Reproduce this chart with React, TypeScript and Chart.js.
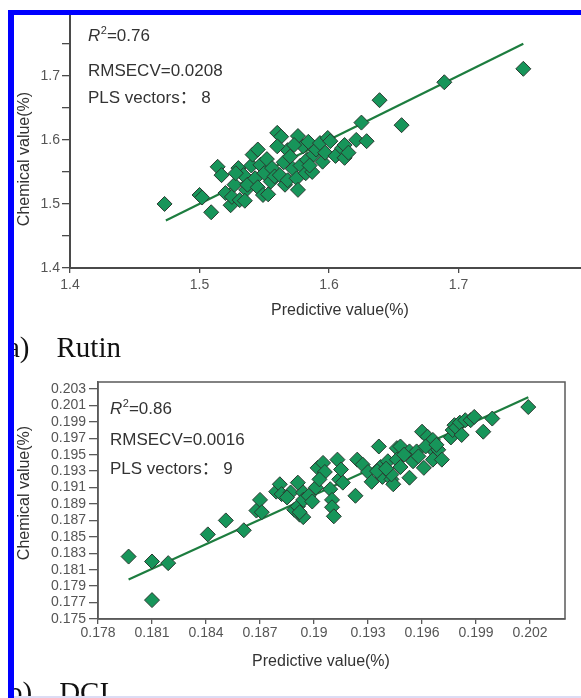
import React, { useEffect, useRef } from 'react';
import { Chart, registerables } from 'chart.js';

Chart.register(...registerables);

// ---------- (a) Rutin ----------
const rutinPredicted = [
  1.473, 1.500, 1.502, 1.509, 1.514, 1.517, 1.520, 1.524, 1.525, 1.527,
  1.530, 1.531, 1.534, 1.536, 1.537, 1.540, 1.541, 1.543, 1.545, 1.547,
  1.549, 1.550, 1.552, 1.555, 1.556, 1.558, 1.560, 1.562, 1.563, 1.565,
  1.566, 1.568, 1.568, 1.570, 1.572, 1.575, 1.576, 1.576, 1.578, 1.580,
  1.582, 1.583, 1.584, 1.587, 1.588, 1.590, 1.593, 1.595, 1.597, 1.599,
  1.601, 1.605, 1.610, 1.612, 1.612, 1.615, 1.621, 1.625, 1.629, 1.639,
  1.656, 1.689, 1.750, 1.553, 1.545, 1.560, 1.535, 1.528, 1.573, 1.585,
];
const rutinChemical = [
  1.500, 1.514, 1.510, 1.487, 1.558, 1.545, 1.517, 1.498, 1.511, 1.530,
  1.556, 1.506, 1.545, 1.522, 1.530, 1.560, 1.577, 1.540, 1.526, 1.561,
  1.514, 1.548, 1.570, 1.535, 1.556, 1.543, 1.611, 1.545, 1.605, 1.565,
  1.530, 1.537, 1.584, 1.574, 1.555, 1.540, 1.522, 1.606, 1.560, 1.590,
  1.548, 1.569, 1.597, 1.550, 1.577, 1.585, 1.595, 1.566, 1.580, 1.603,
  1.598, 1.575, 1.587, 1.572, 1.592, 1.580, 1.600, 1.627, 1.598, 1.662,
  1.623, 1.690, 1.711, 1.515, 1.585, 1.590, 1.505, 1.548, 1.592, 1.560,
];
const rutinFitX = [1.474, 1.75];
const rutinFitY = [1.474, 1.75];
const rutinXTicks = [1.4, 1.5, 1.6, 1.7];
const rutinXTickLabels = ['1.4', '1.5', '1.6', '1.7'];
const rutinYTicks = [1.4, 1.45, 1.5, 1.55, 1.6, 1.65, 1.7, 1.75];
const rutinYTickLabels = ['1.4', '', '1.5', '', '1.6', '', '1.7', ''];
const rutinR2 = '=0.76';
const rutinRmsecv = 'RMSECV=0.0208';
const rutinPls = 'PLS vectors\uFF1A 8';

// ---------- (b) DCI ----------
const dciPredicted = [
  0.1797, 0.1810, 0.1810, 0.1819, 0.1841, 0.1851, 0.1861, 0.1868, 0.1870, 0.1871,
  0.1879, 0.1881, 0.1882, 0.1887, 0.1889, 0.1892, 0.1894, 0.1891, 0.1892, 0.1891,
  0.1894, 0.1894, 0.1901, 0.1902, 0.1905, 0.1906, 0.1903, 0.1909, 0.1910, 0.1910,
  0.1913, 0.1914, 0.1916, 0.1915, 0.1911, 0.1924, 0.1923, 0.1927, 0.1930, 0.1932,
  0.1936, 0.1937, 0.1938, 0.1941, 0.1943, 0.1946, 0.1944, 0.1943, 0.1946, 0.1948,
  0.1948, 0.1953, 0.1953, 0.1955, 0.1957, 0.1960, 0.1961, 0.1963, 0.1965, 0.1966,
  0.1966, 0.1969, 0.1971, 0.1976, 0.1977, 0.1978, 0.1979, 0.1981, 0.1982, 0.1984,
  0.1987, 0.1989, 0.1994, 0.1999, 0.2019, 0.1897, 0.1899, 0.1885, 0.1935, 0.1940,
  0.1950, 0.1958, 0.1962, 0.1968,
];
const dciChemical = [
  0.1826, 0.1820, 0.1773, 0.1818, 0.1853, 0.1870, 0.1858, 0.1882, 0.1895, 0.1880,
  0.1905, 0.1914, 0.1902, 0.1904, 0.1883, 0.1877, 0.1874, 0.1887, 0.1880, 0.1916,
  0.1904, 0.1895, 0.1910, 0.1934, 0.1940, 0.1929, 0.1920, 0.1908, 0.1895, 0.1886,
  0.1944, 0.1920, 0.1916, 0.1932, 0.1875, 0.1944, 0.1900, 0.1938, 0.1929, 0.1917,
  0.1960, 0.1935, 0.1923, 0.1942, 0.1920, 0.1958, 0.1914, 0.1926, 0.1944, 0.1935,
  0.1960, 0.1954, 0.1922, 0.1942, 0.1954, 0.1978, 0.1934, 0.1972, 0.1958, 0.1968,
  0.1944, 0.1956, 0.1944, 0.1971, 0.1980, 0.1986, 0.1983, 0.1989, 0.1974, 0.1992,
  0.1992, 0.1996, 0.1978, 0.1994, 0.2008, 0.1900, 0.1893, 0.1898, 0.1930, 0.1933,
  0.1950, 0.1948, 0.1960, 0.1962,
];
const dciFitX = [0.1797, 0.2019];
const dciFitY = [0.1798, 0.2020];
const dciXTicks = [0.178, 0.181, 0.184, 0.187, 0.19, 0.193, 0.196, 0.199, 0.202];
const dciXTickLabels = ['0.178', '0.181', '0.184', '0.187', '0.19', '0.193', '0.196', '0.199', '0.202'];
const dciYTicks = [0.175, 0.177, 0.179, 0.181, 0.183, 0.185, 0.187, 0.189, 0.191, 0.193, 0.195, 0.197, 0.199, 0.201, 0.203];
const dciYTickLabels = ['0.175', '0.177', '0.179', '0.181', '0.183', '0.185', '0.187', '0.189', '0.191', '0.193', '0.195', '0.197', '0.199', '0.201', '0.203'];
const dciR2 = '=0.86';
const dciRmsecv = 'RMSECV=0.0016';
const dciPls = 'PLS vectors\uFF1A 9';

const xTitle = 'Predictive value(%)';
const yTitle = 'Chemical value(%)';

const SANS = '"Liberation Sans", Arial, "Noto Sans CJK SC", sans-serif';

type Spec = {
  w: number; h: number;
  area: { left: number; top: number; right: number; bottom: number };
  xMin: number; xMax: number; yMin: number; yMax: number;
  xs: number[]; ys: number[]; fitX: number[]; fitY: number[];
  xTicks: number[]; xLabels: string[]; yTicks: number[]; yLabels: string[];
  r2: string; rmsecv: string; pls: string;
  annX: number; annY: number[];
  xTitlePos: [number, number]; yTitlePos: [number, number];
  box: boolean; yTickLen: number; yTickPad: number; xTickLen: number; xTickPad: number;
  axisWidth: number; axisColor: string;
};

function ScatterPanel({ spec, style }: { spec: Spec; style: React.CSSProperties }) {
  const ref = useRef<HTMLCanvasElement | null>(null);
  useEffect(() => {
    const canvas = ref.current!;
    const s = spec;
    const overlay = {
      id: 'overlay',
      afterDraw(chart: any) {
        const ctx = chart.ctx as CanvasRenderingContext2D;
        const ca = chart.chartArea;
        ctx.save();
        if (s.box) {
          ctx.strokeStyle = s.axisColor;
          ctx.lineWidth = s.axisWidth;
          ctx.strokeRect(ca.left, ca.top, ca.right - ca.left, ca.bottom - ca.top);
        }
        ctx.fillStyle = '#333';
        ctx.textBaseline = 'alphabetic';
        ctx.textAlign = 'left';
        // R^2 line
        ctx.font = `italic 17px ${SANS}`;
        ctx.fillText('R', s.annX, s.annY[0]);
        let x = s.annX + ctx.measureText('R').width;
        ctx.font = `11px ${SANS}`;
        ctx.fillText('2', x + 0.5, s.annY[0] - 7);
        x += ctx.measureText('2').width + 0.5;
        ctx.font = `17px ${SANS}`;
        ctx.fillText(s.r2, x, s.annY[0]);
        ctx.fillText(s.rmsecv, s.annX, s.annY[1]);
        ctx.fillText(s.pls, s.annX, s.annY[2]);
        // axis titles
        ctx.font = `16px ${SANS}`;
        ctx.textAlign = 'center';
        ctx.textBaseline = 'middle';
        ctx.fillText(xTitle, s.xTitlePos[0], s.xTitlePos[1]);
        ctx.translate(s.yTitlePos[0], s.yTitlePos[1]);
        ctx.rotate(-Math.PI / 2);
        ctx.fillText(yTitle, 0, 0);
        ctx.restore();
      },
    };
    const chart = new Chart(canvas, {
      type: 'scatter',
      data: {
        datasets: [
          {
            type: 'scatter',
            data: s.xs.map((v, i) => ({ x: v, y: s.ys[i] })),
            pointStyle: 'rectRot',
            pointRadius: 7.5,
            pointBackgroundColor: '#17955a',
            pointBorderColor: '#2a3a30',
            pointBorderWidth: 1,
            order: 0,
          },
          {
            type: 'line',
            data: s.fitX.map((v, i) => ({ x: v, y: s.fitY[i] })),
            borderColor: '#1d7d3f',
            borderWidth: 2.2,
            pointRadius: 0,
            showLine: true,
            fill: false,
            order: 1,
          } as any,
        ],
      },
      options: {
        responsive: false,
        animation: false,
        events: [],
        layout: {
          padding: { left: 0, top: s.area.top, right: s.w - s.area.right, bottom: 0 },
        },
        plugins: { legend: { display: false }, tooltip: { enabled: false } },
        scales: {
          x: {
            type: 'linear',
            min: s.xMin,
            max: s.xMax,
            afterBuildTicks: (axis: any) => {
              axis.ticks = s.xTicks.map((v) => ({ value: v }));
            },
            afterFit: (axis: any) => {
              axis.height = s.h - s.area.bottom;
            },
            ticks: {
              autoSkip: false,
              maxRotation: 0,
              padding: s.xTickPad,
              color: '#555',
              font: { family: SANS, size: 14 },
              callback: (_v: any, i: number) => s.xLabels[i] ?? '',
            },
            grid: {
              drawOnChartArea: false,
              drawTicks: true,
              tickLength: s.xTickLen,
              color: s.axisColor,
              lineWidth: 1.3,
            },
            border: { color: s.axisColor, width: s.axisWidth },
          },
          y: {
            type: 'linear',
            min: s.yMin,
            max: s.yMax,
            afterBuildTicks: (axis: any) => {
              axis.ticks = s.yTicks.map((v) => ({ value: v }));
            },
            afterFit: (axis: any) => {
              axis.width = s.area.left;
            },
            ticks: {
              autoSkip: false,
              padding: s.yTickPad,
              color: '#555',
              font: { family: SANS, size: 14 },
              callback: (_v: any, i: number) => s.yLabels[i] ?? '',
            },
            grid: {
              drawOnChartArea: false,
              drawTicks: true,
              tickLength: s.yTickLen,
              color: s.axisColor,
              lineWidth: 1.3,
            },
            border: { color: s.axisColor, width: s.axisWidth },
          },
        },
      },
      plugins: [overlay],
    });
    return () => chart.destroy();
  }, [spec]);
  return (
    <canvas
      ref={ref}
      width={spec.w}
      height={spec.h}
      style={{ position: 'absolute', width: spec.w, height: spec.h, ...style }}
    />
  );
}

const specA: Spec = {
  w: 640, h: 330,
  area: { left: 70, top: 15, right: 614, bottom: 268 },
  xMin: 1.4, xMax: 1.82, yMin: 1.4, yMax: 1.795,
  xs: rutinPredicted, ys: rutinChemical, fitX: rutinFitX, fitY: rutinFitY,
  xTicks: rutinXTicks, xLabels: rutinXTickLabels, yTicks: rutinYTicks, yLabels: rutinYTickLabels,
  r2: rutinR2, rmsecv: rutinRmsecv, pls: rutinPls,
  annX: 88, annY: [41, 76, 103],
  xTitlePos: [340, 311], yTitlePos: [25, 159],
  box: false, yTickLen: 8, yTickPad: 2, xTickLen: 5, xTickPad: 4,
  axisWidth: 2, axisColor: '#4a4a4a',
};

const specB: Spec = {
  w: 581, h: 338,
  area: { left: 98, top: 22, right: 565, bottom: 259 },
  xMin: 0.178, xMax: 0.20394, yMin: 0.175, yMax: 0.20385,
  xs: dciPredicted, ys: dciChemical, fitX: dciFitX, fitY: dciFitY,
  xTicks: dciXTicks, xLabels: dciXTickLabels, yTicks: dciYTicks, yLabels: dciYTickLabels,
  r2: dciR2, rmsecv: dciRmsecv, pls: dciPls,
  annX: 110, annY: [54, 85, 114],
  xTitlePos: [321, 302], yTitlePos: [25, 133],
  box: true, yTickLen: 9, yTickPad: 3, xTickLen: 5, xTickPad: 1,
  axisWidth: 1.5, axisColor: '#5a5a5a',
};

const serif = '"Liberation Serif", "Times New Roman", serif';

export default function App() {
  return (
    <div
      style={{
        position: 'absolute', left: 0, top: 0, width: 581, height: 698,
        overflow: 'hidden', background: '#fff',
      }}
    >
      <ScatterPanel spec={specA} style={{ left: 0, top: 0 }} />
      <ScatterPanel spec={specB} style={{ left: 0, top: 360 }} />
      <div
        style={{
          position: 'absolute', left: 7, top: 333, fontFamily: serif, fontSize: 29,
          lineHeight: '29px', color: '#111', whiteSpace: 'pre',
        }}
      >
        <span>a)</span><span style={{ marginLeft: 27 }}>Rutin</span>
      </div>
      <div
        style={{
          position: 'absolute', left: 8, top: 678, fontFamily: serif, fontSize: 29,
          lineHeight: '29px', color: '#111', whiteSpace: 'pre',
        }}
      >
        <span>b)</span><span style={{ marginLeft: 27 }}>DCI</span>
      </div>
      <div style={{ position: 'absolute', left: 8, top: 10, width: 573, height: 5, background: '#0000ff' }} />
      <div style={{ position: 'absolute', left: 8, top: 10, width: 6, height: 688, background: '#0000ff' }} />
      <div style={{ position: 'absolute', left: 14, top: 696, width: 567, height: 2, background: '#dcdcf4' }} />
    </div>
  );
}
